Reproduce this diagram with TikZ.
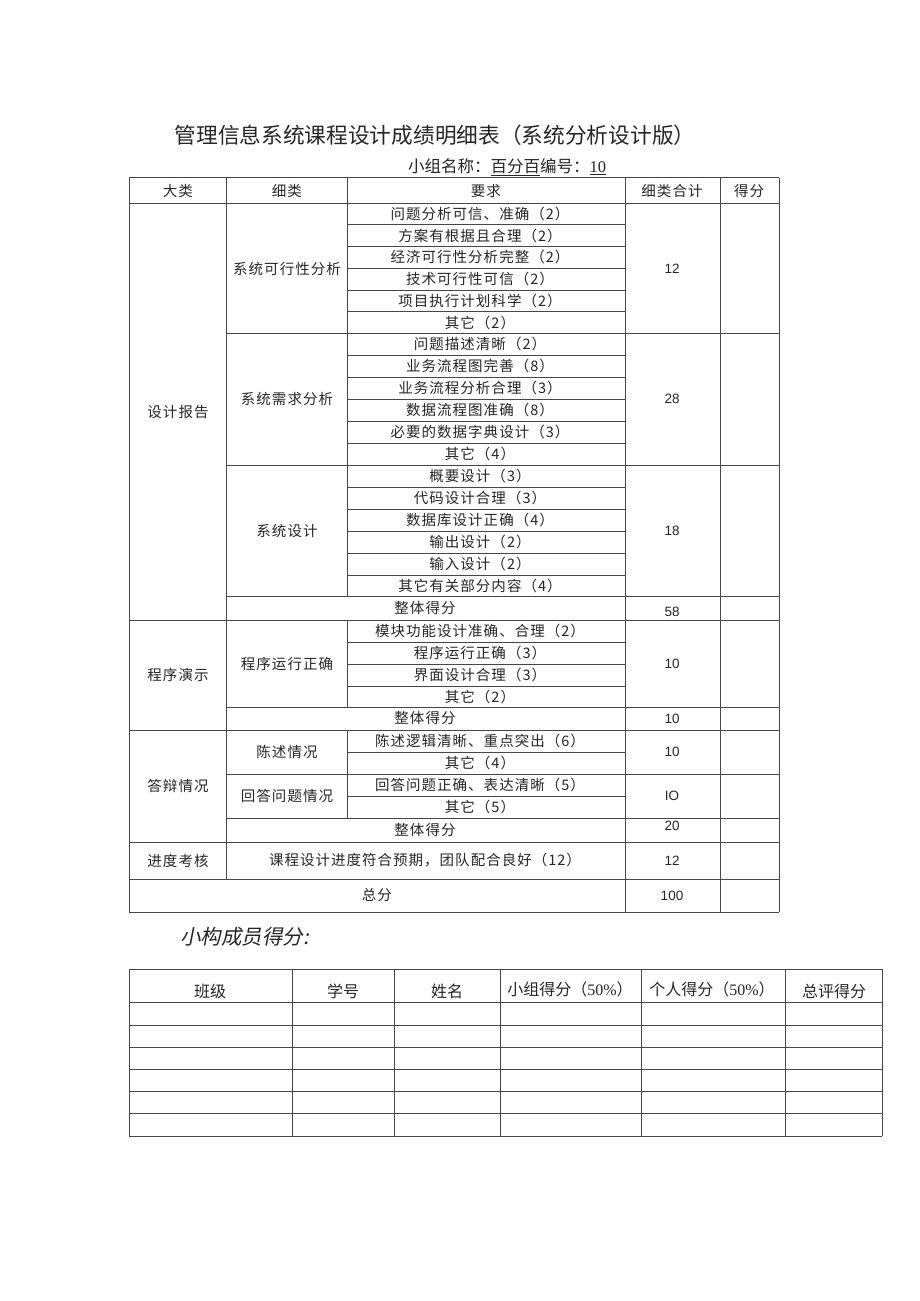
\documentclass[tikz,border=0pt]{standalone}
\usepackage{fontspec}
\setmainfont{Noto Sans CJK SC}
\newfontfamily\cjkspaced[LetterSpace=7]{Noto Sans CJK SC}
\newfontfamily\numfont{Liberation Sans}
\newfontfamily\romfont{Liberation Serif}
\newfontfamily\itcjk[FakeSlant=0.2]{Noto Sans CJK SC}
\begin{document}
\begin{tikzpicture}[x=1pt,y=-1pt,
	line/.style={draw=black!72, line width=0.9pt},
	txt/.style={font=\cjkspaced\fontsize{14.5}{16}\selectfont, text=black!85, inner sep=0pt},
	num/.style={font=\numfont\fontsize{13.5}{15}\selectfont, text=black!85, inner sep=0pt}]
	\fill[white] (0,0) rectangle (920,1301);
	\useasboundingbox (0,0) rectangle (920,1301);
	% Tiêu đề
	\node[font=\fontsize{21.7}{24}\selectfont, text=black!85, inner sep=0pt] (tieude) at (435,135) {管理信息系统课程设计成绩明细表（系统分析设计版）};
	\node[txt, font=\fontsize{16.5}{18}\selectfont] (nhom) at (507,167) {小组名称：\underline{百分百}编号：\underline{\romfont 10}};
	% Bảng 1: đường kẻ ngang
	\foreach \y in {177.5,203.5,620,730,842,879,912}
		\draw[line] (129,\y) -- (779,\y);
	\foreach \y in {333.5,465,596,707,774,818}
		\draw[line] (226,\y) -- (779,\y);
	\foreach \y in {224.5,246.5,268,290,311.5,355,377,399,421,443,487,509,531,553,575,642,664,686,752,796}
		\draw[line] (347,\y) -- (625,\y);
	% Bảng 1: đường kẻ dọc
	\foreach \x in {129,625,720,779}
		\draw[line] (\x,177.5) -- (\x,912);
	\draw[line] (226,177.5) -- (226,879);
	\draw[line] (347,177.5) -- (347,596) (347,620) -- (347,707) (347,730) -- (347,818);
	% Hàng tiêu đề
	\node[txt] (h1) at (178,191) {大类};
	\node[txt] (h2) at (287,191) {细类};
	\node[txt] (h3) at (486,191) {要求};
	\node[txt] (h4) at (672,191) {细类合计};
	\node[txt] (h5) at (749,191) {得分};
	% Cột yêu cầu
	\foreach \y/\t [count=\i] in {214/问题分析可信、准确（2）, 235.5/方案有根据且合理（2）, 257/经济可行性分析完整（2）, 279/技术可行性可信（2）, 301/项目执行计划科学（2）, 322.5/其它（2）,
		344/问题描述清晰（2）, 366/业务流程图完善（8）, 388/业务流程分析合理（3）, 410/数据流程图准确（8）, 432/必要的数据字典设计（3）, 454/其它（4）,
		476/概要设计（3）, 498/代码设计合理（3）, 520/数据库设计正确（4）, 542/输出设计（2）, 564/输入设计（2）, 585.5/其它有关部分内容（4）,
		631/模块功能设计准确、合理（2）, 653/程序运行正确（3）, 675/界面设计合理（3）, 696.5/其它（2）,
		741/陈述逻辑清晰、重点突出（6）, 763/其它（4）, 785/回答问题正确、表达清晰（5）, 807/其它（5）}
		\node[txt] (yc\i) at (480,\y) {\t};
	% Cột nhỏ và cột lớn
	\foreach \y/\t [count=\i] in {268.5/系统可行性分析, 399/系统需求分析, 530.5/系统设计, 664/程序运行正确, 752/陈述情况, 796/回答问题情况}
		\node[txt] (xl\i) at (287,\y) {\t};
	\foreach \y/\t [count=\i] in {412/设计报告, 675/程序演示, 786/答辩情况, 860.5/进度考核}
		\node[txt] (dl\i) at (178,\y) {\t};
	\foreach \y [count=\i] in {608,718.5,830}
		\node[txt] (zt\i) at (425,\y) {整体得分};
	\node[txt] (jd) at (425,860.5) {课程设计进度符合预期，团队配合良好（12）};
	\node[txt] (zf) at (377,895.5) {总分};
	% Điểm
	\foreach \y/\t [count=\i] in {268.5/12, 399/28, 530.5/18, 612/58, 664/10, 718.5/10, 752/10, 796/IO, 826/20, 860.5/12, 895.5/100}
		\node[num] (hj\i) at (672,\y) {\t};
	% Bảng 2
	\node[font=\itcjk\fontsize{20.5}{22}\selectfont, text=black!85, inner sep=0pt, anchor=west] (cy) at (180,937) {小构成员得分:};
	\foreach \y in {969,1002.5,1025,1047,1069.5,1091,1113,1136}
		\draw[line] (129,\y) -- (882,\y);
	\foreach \x in {129,292,394,500,641,785,882}
		\draw[line] (\x,969) -- (\x,1136);
	\foreach \x/\t [count=\i] in {210/班级, 343/学号, 447/姓名, 834/总评得分}
		\node[txt, font=\fontsize{16}{18}\selectfont] (b\i) at (\x,991) {\t};
	\node[txt, font=\fontsize{16}{18}\selectfont] (b5) at (570,989) {小组得分（{\romfont 50\%}）};
	\node[txt, font=\fontsize{16}{18}\selectfont] (b6) at (712,989) {个人得分（{\romfont 50\%}）};
\end{tikzpicture}
\end{document}
